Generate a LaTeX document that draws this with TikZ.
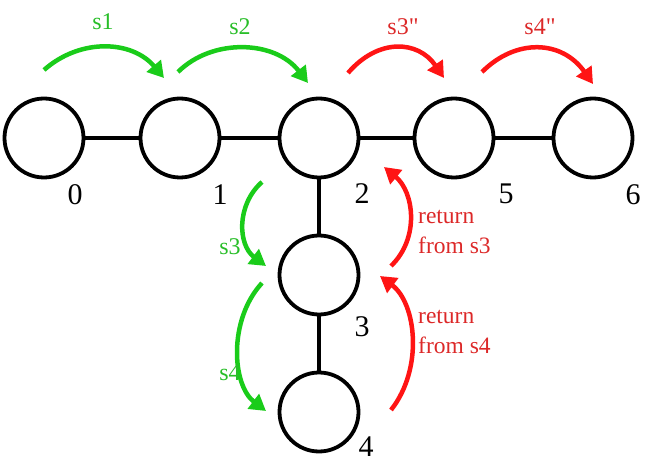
\documentclass[tikz,border=0pt]{standalone}
\usepackage{fontspec}
\setmainfont{Liberation Serif}[Ligatures=TeXOff]
\usetikzlibrary{arrows.meta}
\definecolor{grn}{RGB}{26,204,26}
\definecolor{rd}{RGB}{255,20,20}
\definecolor{rdtxt}{RGB}{220,40,40}
\definecolor{grntxt}{RGB}{40,190,40}
\tikzset{
  vert/.style={circle, draw=black, line width=3.8pt, minimum size=79pt, inner sep=0pt},
  edge/.style={line width=3.8pt, draw=black},
  num/.style={font=\fontsize{30}{30}\selectfont, inner sep=0pt},
  garrow/.style={draw=grn, line width=4.5pt, -{Triangle[length=16pt,width=18pt]}},
  rarrow/.style={draw=rd, line width=4.5pt, -{Triangle[length=16pt,width=18pt]}},
  glab/.style={text=grntxt, font=\fontsize{24}{24}\selectfont, inner sep=0pt},
  rlab/.style={text=rdtxt, font=\fontsize{23.5}{30}\selectfont, inner sep=0pt, align=left, anchor=west},
}
\begin{document}
\begin{tikzpicture}[x=1pt,y=-1pt]
\useasboundingbox (0,0) rectangle (650,470);
% vertices
\node[vert] (n0) at (44,138) {};
\node[vert] (n1) at (180,138) {};
\node[vert] (n2) at (319,138) {};
\node[vert] (n5) at (454,138) {};
\node[vert] (n6) at (593,138) {};
\node[vert] (n3) at (319,275) {};
\node[vert] (n4) at (319,412) {};
% edges
\draw[edge] (n0) -- (n1);
\draw[edge] (n1) -- (n2);
\draw[edge] (n2) -- (n5);
\draw[edge] (n5) -- (n6);
\draw[edge] (n2) -- (n3);
\draw[edge] (n3) -- (n4);
% numbers
\node[num] (l0) at (75,195) {0};
\node[num] (l1) at (220,195) {1};
\node[num] (l2) at (362,194) {2};
\node[num] (l5) at (506,194) {5};
\node[num] (l6) at (633,195) {6};
\node[num] (l3) at (362,327) {3};
\node[num] (l4) at (366,447) {4};
% arrow end points
\coordinate (a1s) at (44,70);   \coordinate (a1e) at (164,78);
\coordinate (a2s) at (178,72);  \coordinate (a2e) at (308,83);
\coordinate (a3s) at (348,73);  \coordinate (a3e) at (444,78);
\coordinate (a4s) at (482,72);  \coordinate (a4e) at (593,84);
\coordinate (b3s) at (262,182); \coordinate (b3e) at (266,266);
\coordinate (b4s) at (262,283); \coordinate (b4e) at (266,411);
\coordinate (r3s) at (391,266); \coordinate (r3e) at (384,167);
\coordinate (r4s) at (391,410); \coordinate (r4e) at (380,276);
% top arrows
\draw[garrow] (a1s) .. controls (80,38) and (132,40) .. (a1e);
\draw[garrow] (a2s) .. controls (212,38) and (275,40) .. (a2e);
\draw[rarrow] (a3s) .. controls (378,38) and (418,40) .. (a3e);
\draw[rarrow] (a4s) .. controls (516,38) and (562,40) .. (a4e);
% vertical arrows
\draw[garrow] (b3s) .. controls (236,205) and (238,245) .. (b3e);
\draw[garrow] (b4s) .. controls (228,320) and (232,385) .. (b4e);
\draw[rarrow] (r3s) .. controls (420,238) and (414,192) .. (r3e);
\draw[rarrow] (r4s) .. controls (424,368) and (416,303) .. (r4e);
% labels
\node[glab] (t1) at (103,22) {s1};
\node[glab] (t2) at (240,27) {s2};
\node[rlab, anchor=center, font=\fontsize{24}{24}\selectfont] (t3) at (403,27) {s3"};
\node[rlab, anchor=center, font=\fontsize{24}{24}\selectfont] (t4) at (540,27) {s4"};
\node[glab] (t5) at (230,247) {s3};
\node[glab] (t6) at (230,373) {s4};
\node[rlab] (t7) at (418,232) {return\\from s3};
\node[rlab] (t8) at (418,332) {return\\from s4};
\end{tikzpicture}
\end{document}
